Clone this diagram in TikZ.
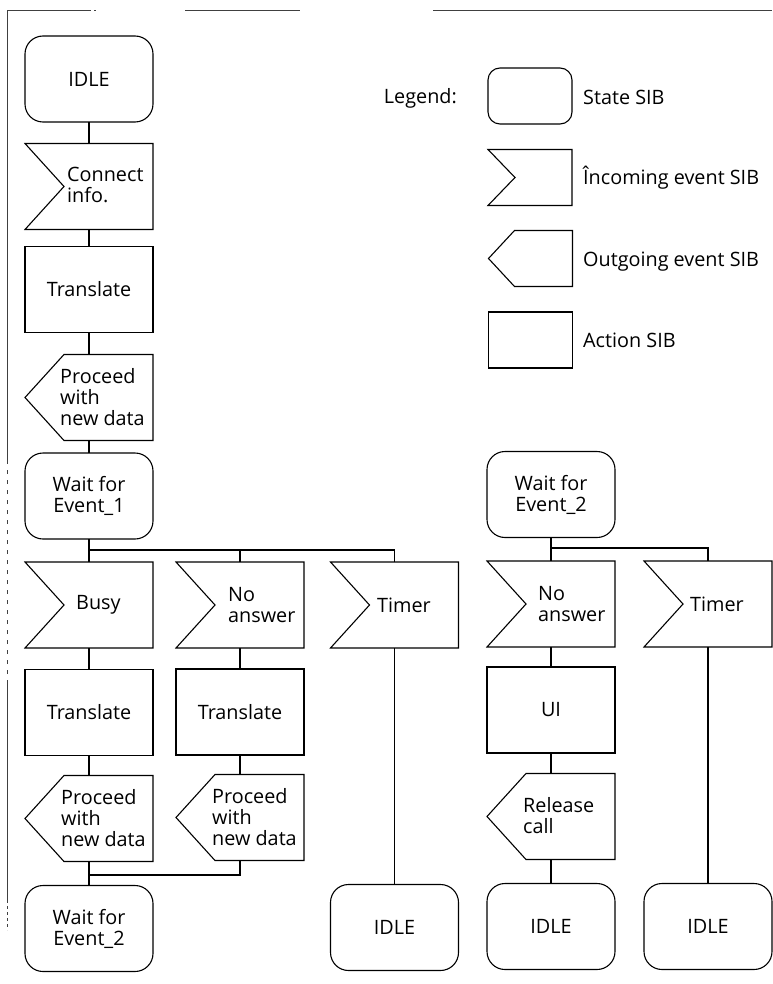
\documentclass[tikz,border=0pt]{standalone}
\usepackage{fontspec}
\setmainfont{Open Sans}
\newcommand\sibfont{\fontsize{19.8}{21}\selectfont}
\tikzset{
  sib/.style={rectangle, minimum width=128pt, minimum height=86pt, inner sep=0pt, outer sep=0pt},
  lgbox/.style={rectangle, minimum width=84pt, minimum height=56pt, inner sep=0pt, outer sep=0pt},
  txt/.style={inner sep=0pt, align=left, font=\sibfont},
  ctxt/.style={align=center, font=\sibfont},
  ln/.style={line width=1.1pt},
  frame/.style={line width=0.8pt, black!75},
}
\begin{document}
\begin{tikzpicture}[x=1pt,y=-1pt]
\useasboundingbox (0,0) rectangle (772,984);
% scan frame
\draw[frame] (88,10) -- (7,10) -- (7,460);
\draw[frame, dash pattern=on 3pt off 3pt] (88,10) -- (96,10);
\draw[frame, dash pattern=on 4pt off 6pt] (7,460) -- (7,680);
\draw[frame] (7,680) -- (7,900);
\draw[frame, dash pattern=on 3pt off 3pt] (7,900) -- (7,930);
\draw[frame] (185,10) -- (300,10);
\draw[frame] (433,10) -- (772,10);

% column 1
\node[sib,ctxt] (idle1) at (89,79) {IDLE};
\node[sib] (ci) at (89,186.5) {};
\node[txt,anchor=west] (cit) at (67,185) {Connect\\info.};
\node[sib,ctxt] (tr1) at (89,289.5) {Translate};
\node[sib] (pr1) at (89,397.5) {};
\node[txt,anchor=west] (pr1t) at (60,397) {Proceed\\with\\new data};
\node[sib,ctxt] (w1) at (89,496) {Wait for\\Event\_1};
\node[sib] (busy) at (89,605) {};
\node[txt,anchor=west] (busyt) at (76,605) {Busy};
\node[sib,ctxt] (tr2) at (89,712.5) {Translate};
\node[sib] (pr2) at (89,818.5) {};
\node[txt,anchor=west] (pr2t) at (61,818) {Proceed\\with\\new data};
\node[sib,ctxt] (w2b) at (89,928.5) {Wait for\\Event\_2};
% column 2
\node[sib] (na1) at (240,605) {};
\node[txt,anchor=west] (na1t) at (228,605) {No\\answer};
\node[sib,ctxt] (tr3) at (240,712) {Translate};
\node[sib] (pr3) at (240,817.5) {};
\node[txt,anchor=west] (pr3t) at (212,817) {Proceed\\with\\new data};
% column 3
\node[sib] (t1) at (394.5,605) {};
\node[txt,anchor=west] (t1t) at (377,605) {Timer};
\node[sib,ctxt] (idle3) at (394.5,927.5) {IDLE};
% column 4
\node[sib,ctxt] (w2a) at (551,494.5) {Wait for\\Event\_2};
\node[sib] (na2) at (551,604) {};
\node[txt,anchor=west] (na2t) at (538,604) {No\\answer};
\node[sib,ctxt] (ui) at (551,710) {UI};
\node[sib] (rc) at (551,816.5) {};
\node[txt,anchor=west] (rct) at (523,816) {Release\\call};
\node[sib,ctxt] (idle4) at (551,926.5) {IDLE};
% column 5
\node[sib] (t2) at (708,604) {};
\node[txt,anchor=west] (t2t) at (690,604) {Timer};
\node[sib,ctxt] (idle5) at (708,926.5) {IDLE};

% outlines
\foreach \n in {idle1,w1,w2b,idle3,w2a,idle4,idle5}
  \draw[ln, rounded corners=18pt] (\n.north west) rectangle (\n.south east);
\foreach \n in {tr1,tr2,tr3,ui}
  \draw[ln] (\n.north west) rectangle (\n.south east);
\foreach \n in {ci,busy,na1,t1,na2,t2}
  \draw[ln] (\n.north west) -- (\n.north east) -- (\n.south east) -- (\n.south west) -- ([xshift=39pt]\n.west) -- cycle;
\foreach \n in {pr1,pr2,pr3,rc}
  \draw[ln] ([xshift=39pt]\n.north west) -- (\n.north east) -- (\n.south east) -- ([xshift=39pt]\n.south west) -- (\n.west) -- cycle;

% connectors
\coordinate (br1) at (89,550);
\coordinate (br2) at (551,548);
\coordinate (mg) at (89,875);
\draw[ln] (idle1.south) -- (ci.north);
\draw[ln] (ci.south) -- (tr1.north);
\draw[ln] (tr1.south) -- (pr1.north);
\draw[ln] (pr1.south) -- (w1.north);
\draw[ln] (w1.south) -- (busy.north);
\draw[ln] (br1) -| (t1.north);
\draw[ln] (na1.north) -- (na1.north |- br1);
\draw[ln] (busy.south) -- (tr2.north);
\draw[ln] (tr2.south) -- (pr2.north);
\draw[ln] (pr2.south) -- (w2b.north);
\draw[ln] (na1.south) -- (tr3.north);
\draw[ln] (tr3.south) -- (pr3.north);
\draw[ln] (pr3.south) |- (mg);
\draw[ln] (t1.south) -- (idle3.north);
\draw[ln] (w2a.south) -- (na2.north);
\draw[ln] (br2) -| (t2.north);
\draw[ln] (na2.south) -- (ui.north);
\draw[ln] (ui.south) -- (rc.north);
\draw[ln] (rc.south) -- (idle4.north);
\draw[ln] (t2.south) -- (idle5.north);

% legend
\node[anchor=base east, inner sep=0pt, font=\sibfont] (leg) at (457,104) {Legend:};
\node[lgbox] (ls) at (530,96) {};
\node[lgbox] (li) at (530,177.5) {};
\node[lgbox] (lo) at (530.5,258.5) {};
\node[lgbox] (la) at (530.5,340) {};
\draw[ln, rounded corners=12pt] (ls.north west) rectangle (ls.south east);
\draw[ln] (li.north west) -- (li.north east) -- (li.south east) -- (li.south west) -- ([xshift=27pt]li.west) -- cycle;
\draw[ln] ([xshift=26pt]lo.north west) -- (lo.north east) -- (lo.south east) -- ([xshift=26pt]lo.south west) -- (lo.west) -- cycle;
\draw[ln] (la.north west) rectangle (la.south east);
\node[anchor=base west, inner sep=0pt, font=\sibfont] (lst) at (583,105) {State SIB};
\node[anchor=base west, inner sep=0pt, font=\sibfont] (lit) at (583,185) {Încoming event SIB};
\node[anchor=base west, inner sep=0pt, font=\sibfont] (lot) at (583,266) {Outgoing event SIB};
\node[anchor=base west, inner sep=0pt, font=\sibfont] (lat) at (583,347) {Action SIB};
\end{tikzpicture}
\end{document}
